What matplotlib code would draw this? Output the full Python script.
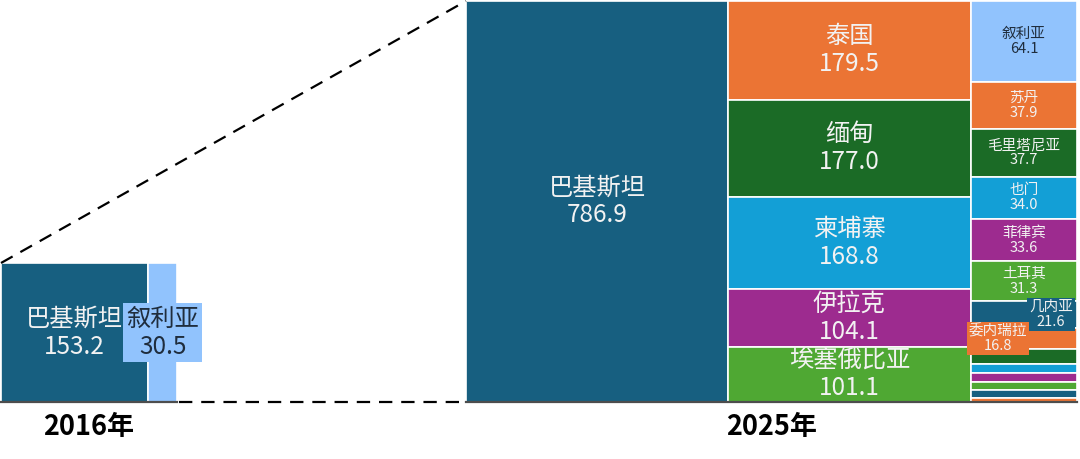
import matplotlib.pyplot as plt
from matplotlib.patches import Rectangle

plt.rcParams['font.family'] = ['Noto Sans CJK SC', 'DejaVu Sans']

# Data
years = ['2016年', '2025年']
names_2016 = ['巴基斯坦', '叙利亚']
values_2016 = [153.2, 30.5]
names_2025 = ['巴基斯坦', '泰国', '缅甸', '柬埔寨', '伊拉克', '埃塞俄比亚',
              '叙利亚', '苏丹', '毛里塔尼亚', '也门', '菲律宾', '土耳其',
              '几内亚', '委内瑞拉', '', '', '', '', '', '']
values_2025 = [786.9, 179.5, 177.0, 168.8, 104.1, 101.1,
               64.1, 37.9, 37.7, 34.0, 33.6, 31.3,
               21.6, 16.8, 12.0, 7.4, 7.0, 6.2, 6.2, 3.4]

# Layout (pixel units)
AREA = 133.4          # px^2 per unit
BASE = 402
palette = ['#175f80', '#eb7434', '#1b6b26', '#139fd6', '#9d2b8f', '#4fa833']
highlight = {'叙利亚': '#91c3fd'}
dark_text = {'叙利亚'}
boxed = {('2016年', '叙利亚'), ('2025年', '几内亚'), ('2025年', '委内瑞拉')}
shift = {('2025年', '几内亚'): 27, ('2025年', '委内瑞拉'): -26}

fig = plt.figure(figsize=(10.8, 4.59), dpi=100)
ax = fig.add_axes([0, 0, 1, 1])
ax.set_xlim(0, 1080)
ax.set_ylim(459, 0)
ax.axis('off')


def draw_block(year, x0, height, names, values, groups, big_min):
    x = x0
    i = 0
    for n in groups:
        vals = values[i:i + n]
        w = sum(vals) * AREA / height
        y = BASE - height
        for name, v in zip(names[i:i + n], vals):
            h = v / sum(vals) * height
            c = highlight.get(name, palette[i % len(palette)])
            ax.add_patch(Rectangle((x, y), w, h, facecolor=c,
                                   edgecolor='white', lw=1.2))
            if name:
                fs = 17.5 if v >= big_min else 10.5
                tc = '#1f2d3d' if name in dark_text else '#f2f2f2'
                bb = None
                if (year, name) in boxed:
                    bb = dict(boxstyle='square,pad=0.12', fc=c, ec='none')
                ax.text(x + w / 2 + shift.get((year, name), 0), y + h / 2,
                        f'{name}\n{v:.1f}', ha='center', va='center',
                        fontsize=fs, color=tc, linespacing=1.1, bbox=bb)
            y += h
            i += 1
        x += w
    ax.plot([x0, x], [BASE, BASE], color='#4d4d4d', lw=1.6)
    ax.text((x0 + x) / 2, 427, year, ha='center', va='center',
            fontsize=19.5, fontweight='bold', color='black')
    return x


x0_2016, x0_2025 = 1, 466
h_2016, h_2025 = 139, 401
right_2016 = draw_block(years[0], x0_2016, h_2016, names_2016, values_2016,
                        [1, 1], 0)
draw_block(years[1], x0_2025, h_2025, names_2025, values_2025,
           [1, 5, 14], 100)

# connecting dashed lines
ax.plot([x0_2016, x0_2025], [BASE - h_2016, BASE - h_2025], color='black',
        lw=1.6, dashes=(6, 4))
ax.plot([right_2016 + 2, x0_2025], [BASE, BASE], color='black',
        lw=1.6, dashes=(6, 4))

fig.savefig('out.png', dpi=100)
